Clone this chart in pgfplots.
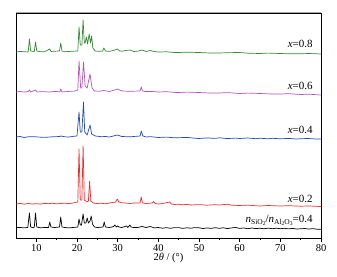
\documentclass[border=0pt]{standalone}
\usepackage{fontspec}
\setmainfont{Liberation Serif}
\usepackage{pgfplots}
\pgfplotsset{compat=1.18}
\definecolor{cgreen}{RGB}{55,135,55}
\definecolor{cpurple}{RGB}{175,85,185}
\definecolor{cblue}{RGB}{35,75,185}
\definecolor{cred}{RGB}{240,45,45}
\begin{document}
\begin{tikzpicture}
\begin{axis}[
  scale only axis, width=305pt, height=225pt,
  xmin=5, xmax=80, ymin=0, ymax=225,
  xtick={10,20,...,80}, minor x tick num=1,
  ytick=\empty, tick pos=bottom, tick align=outside,
  major tick length=4pt, minor tick length=2pt,
  axis line style={black, line width=0.6pt},
  tick style={black, line width=0.5pt},
  /pgf/number format/assume math mode=true,
  ticklabel style={font=\fontsize{10.5}{12}\selectfont},
  xlabel={2\textit{θ} / (°)},
  xlabel style={font=\fontsize{10.5}{12}\selectfont, yshift=5pt},
  xticklabel style={yshift=1pt},
  clip=false,
  every axis plot/.append style={line width=0.7pt, mark=none, line join=round},
]
\addplot[black] coordinates {
(5,10.3)(6,10.6)(7,10.1)(7.9,10.6)(8.3,25)(8.6,11)(9.2,10.2)(9.5,11)(9.8,25)(10.1,11)(11,10.2)(12,10.5)(13,10.5)(13.3,16)(13.6,11)(14.5,10.5)(15.7,11)(16.0,21)(16.3,11)(17,10.5)(18,10.1)(19,10.5)(20.2,11)(20.5,19)(20.8,13)(21.1,13)(21.5,24)(21.8,15)(22.2,15)(22.5,20)(22.8,15)(23.2,17)(23.5,22)(23.8,14)(24.3,11)(25,10.5)(26.4,11)(26.7,16)(27,11)(28,10.5)(29,11.5)(29.3,13)(29.7,11)(30,12)(30.3,11)(31,10.5)(32.2,12)(32.5,10.5)(33,13)(33.3,11)(34,10.5)(35,10.6)(36,11.5)(37,10.5)(38,11.5)(39,10.1)(40,10.5)(41,9.8)(42,10.3)(43,9.7)(44,10.4)(45,10.4)(46,9.6)(47,10.2)(48,9.8)(49,10.4)(50,10.2)(51,9.5)(52,10.1)(53,9.6)(54,10.3)(55,9.7)(56,10.2)(57,9.4)(58,10.1)(59,10.5)(60,9.6)(61,10)(62,9.3)(63,10)(64,9.4)(65,9.8)(66,9.2)(67,9.9)(68,9.3)(69,9.8)(70,9.3)(71,9.7)(72,9.1)(73,9.6)(74,9)(75,9.2)(76,9.5)(77,8.9)(78,9.4)(79,8.8)(80,8.8)
};
\addplot[cred] coordinates {
(5,34)(6,34.6)(7,33.8)(8,34.5)(9,34)(10,34.4)(11,33.9)(12,34.6)(13,34.3)(14,34.8)(15,34.1)(16,34.5)(17,34.9)(18,34.3)(19,35)(20.2,36)(20.5,89)(20.8,38)(21.2,38)(21.5,92)(21.8,38)(22.5,36)(22.8,37)(23.1,57)(23.4,37)(24,35)(25,34.5)(26,34.8)(27,34.2)(28,35)(29.5,36)(29.9,39)(30.3,36)(31,35.2)(32,35)(33,34.5)(34,35)(35.5,35)(35.8,41)(36.1,35)(37,34.5)(38.5,35)(38.8,36.5)(39.2,34.5)(40,34)(41,34.5)(42.8,36)(43.2,34)(44,33.5)(45,33.8)(46,33.2)(47,33.7)(48,33)(50,33.4)(52,32.8)(54,33.3)(55,33)(57,33.8)(58,32.8)(60,32.5)(62,32.9)(64,32.2)(65,32)(67,32.5)(70,32)(72,32.3)(75,31.8)(77,32)(80,31.5)
};
\addplot[cblue] coordinates {
(5,101)(6,101.5)(7,100.5)(8,101.2)(9.5,101.3)(11,100.8)(12,100.6)(14,101.2)(15.8,101.5)(16,102)(17,101.2)(18,101)(19,101.6)(20,102)(20.5,126)(20.8,106)(21.2,106)(21.6,136)(21.9,106)(22.5,103)(23.2,113)(23.6,104)(24.5,102)(26,101.3)(27,101.5)(28,101)(29.9,103)(31,101.5)(33,101.2)(35.5,102)(35.8,107)(36.2,102)(37,101)(38,101.4)(40,100.5)(42,100.9)(44,100.2)(45,100.3)(47,100.6)(49,99.8)(50,99.5)(52,100.1)(54,99.6)(55,100.2)(57,99.4)(59,99.9)(60,99.5)(62,100)(64,99.3)(65,99.8)(67,99.2)(68,99.7)(70,99.2)(72,99.6)(74,99)(75,99.3)(77,99.5)(79,98.9)(80,99)
};
\addplot[cpurple] coordinates {
(5,146)(6,146.5)(7,145.9)(8,146.5)(8.3,148)(8.6,146)(9.8,148)(10.2,146)(11.5,146.4)(13,146)(14.5,146.5)(15.8,146.3)(16,149)(16.3,146)(18,146.6)(19.5,147)(20.2,148)(20.5,177)(20.9,150)(21.2,150)(21.6,176)(22,152)(22.5,150)(23.2,164)(23.7,150)(24.3,147)(25.5,146.8)(26.6,147.5)(28,146.5)(30,149)(31,147)(33,146.7)(35.5,147)(35.8,151)(36.1,147)(37,146.4)(38.5,146.5)(40,146)(42,146.3)(44,145.6)(45,145.5)(47,145.9)(50,145.5)(52,145.1)(55,145)(57,145.4)(60,144.5)(62,144.9)(65,144.5)(67,144.1)(70,144)(72,144.3)(75,143.5)(77,143.8)(80,143)
};
\addplot[cgreen] coordinates {
(5,186)(6,186.5)(7,186.3)(8,186)(8.3,199)(8.6,187)(9.5,186.5)(9.8,196)(10.1,187)(11,186.2)(12,186.3)(13.3,189)(13.6,186.5)(14.5,186.8)(15.7,187)(16,195)(16.3,187)(17,186.3)(18,186.5)(19,186.8)(20.2,187)(20.5,211)(20.8,193)(21.2,193)(21.5,218)(21.8,195)(22.0,195)(22.3,201)(22.6,194)(23.0,204)(23.3,195)(23.6,202)(23.9,190)(24.5,187)(25.5,186.6)(26.3,187)(26.6,190)(27,187)(28,186.6)(29.3,188)(29.6,188.5)(30,189)(30.5,187)(31,186.8)(32,187.5)(33,188)(34,186.5)(35,186.9)(36,188)(37,186.5)(38,187.5)(39,186.4)(40,186)(42,186.2)(44,185.5)(45,185.5)(47,185.8)(50,185.5)(52,185.1)(55,185)(57,185.3)(60,185.5)(62,184.8)(65,184.5)(67,184.9)(70,184.5)(72,184.2)(75,184.2)(77,184.5)(80,184)
};
\draw[gray!70, line width=1pt] (rel axis cs:0,1) -- (rel axis cs:1,1);
\path[font=\fontsize{11}{12}\selectfont]
  (axis cs:78.8,190) node[anchor=base east] {\textit{x}=0.8}
  (axis cs:78.8,148) node[anchor=base east] {\textit{x}=0.6}
  (axis cs:78.8,105) node[anchor=base east] {\textit{x}=0.4}
  (axis cs:78.8,36) node[anchor=base east] {\textit{x}=0.2}
  (axis cs:78.8,16) node[anchor=base east] {\textit{n}\raisebox{-0.45ex}{\fontsize{7.5}{8}\selectfont SiO\raisebox{-0.3ex}{\fontsize{5.5}{6}\selectfont 2}}/\textit{n}\raisebox{-0.45ex}{\fontsize{7.5}{8}\selectfont Al\raisebox{-0.3ex}{\fontsize{5.5}{6}\selectfont 2}O\raisebox{-0.3ex}{\fontsize{5.5}{6}\selectfont 3}}=0.4};
\coordinate (axsw) at (rel axis cs:0,0);
\coordinate (axne) at (rel axis cs:1,1);
\end{axis}
\pgfresetboundingbox
\useasboundingbox ([shift={(-16pt,-38pt)}]axsw) rectangle ([shift={(16pt,13pt)}]axne);
\end{tikzpicture}
\end{document}
